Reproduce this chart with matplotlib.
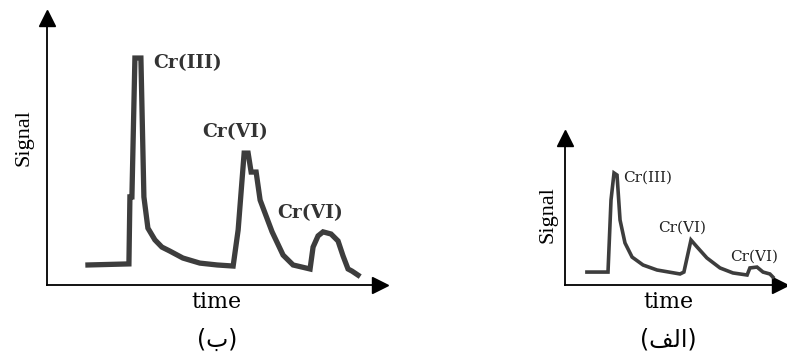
import matplotlib
matplotlib.use("Agg")
import matplotlib.pyplot as plt

# chromatograms, arbitrary units (time and signal both on a 0-100 scale)
time_b = [12.3, 24.6, 24.9, 25.5, 26.4, 28.2, 29.1, 30.3, 32.4, 34.5, 36.9, 40.8,
          45.9, 51.1, 55.9, 57.4, 59.2, 60.4, 61.3, 62.8, 64.0, 67.6, 70.9, 73.9,
          79.0, 79.9, 81.4, 82.9, 85.3, 87.4, 88.9, 90.4, 91.6, 93.4]
signal_b = [7.5, 7.9, 33.0, 33.0, 85.0, 85.0, 33.0, 21.3, 16.9, 14.2, 12.7, 10.1,
            8.2, 7.5, 7.1, 20.6, 49.4, 49.4, 42.3, 42.3, 31.8, 19.9, 11.2, 7.5,
            6.0, 14.2, 18.4, 19.9, 19.1, 16.5, 10.9, 6.0, 5.2, 3.7]

time_a = [10.2, 20.0, 21.4, 22.8, 24.2, 25.6, 27.9, 31.2, 36.3, 42.8, 53.5, 55.3,
          58.6, 61.4, 66.0, 72.1, 78.1, 84.7, 86.0, 89.3, 92.1, 95.3, 96.7]
signal_a = [8.8, 8.8, 57.8, 76.2, 74.8, 44.2, 28.6, 19.0, 13.6, 10.2, 7.5, 8.8,
            30.6, 25.9, 18.4, 11.6, 8.2, 6.8, 11.6, 12.2, 8.8, 7.5, 5.4]

peak_names = ["Cr(III)", "Cr(VI)", "Cr(VI)"]
label_pos_b = [(31.8, 83.1), (46.5, 57.3), (69.1, 27.0)]
label_pos_a = [(27.0, 72.8), (43.3, 38.8), (76.7, 19.0)]

TRACE = "#3d3d3d"
SERIF = "DejaVu Serif"

fig = plt.figure(figsize=(7.87, 3.53), dpi=100)
W, H = 787, 353


def add_panel(left, right, bottom, top):
    ax = fig.add_axes([left / W, 1 - bottom / H, (right - left) / W, (bottom - top) / H])
    ax.set_xlim(0, 100)
    ax.set_ylim(0, 100)
    ax.set_xticks([])
    ax.set_yticks([])
    for side in ("top", "right"):
        ax.spines[side].set_visible(False)
    for side in ("left", "bottom"):
        ax.spines[side].set_linewidth(1.3)
    ax.plot(1, 0, ">k", ms=11, transform=ax.get_yaxis_transform(), clip_on=False)
    ax.plot(0, 1, "^k", ms=11, transform=ax.get_xaxis_transform(), clip_on=False)
    return ax


def decorate(ax, sig_xy, time_xy, caption, cap_xy):
    ax.text(*sig_xy, "Signal", rotation=90, ha="center", va="center",
            family="Liberation Serif", fontsize=16, transform=ax.transAxes)
    ax.text(*time_xy, "time", ha="center", va="center",
            family=SERIF, fontsize=16, transform=ax.transAxes)
    fig.text(*cap_xy, caption, ha="center", va="center", family="DejaVu Sans",
             fontsize=17)


# (b) larger chromatogram
ax_b = add_panel(47, 380, 285, 18)
ax_b.plot(time_b, signal_b, color=TRACE, lw=3.8, solid_joinstyle="miter")
for name, (x, y) in zip(peak_names, label_pos_b):
    ax_b.text(x, y, name, ha="left", va="center", family=SERIF, fontsize=13.5,
              fontweight="bold", color="#333333")
decorate(ax_b, (-0.069, 0.554), (0.51, -0.064), "(ب)", (217 / W, 1 - 340 / H))

# (a) smaller chromatogram
ax_a = add_panel(565, 780, 285, 138)
ax_a.plot(time_a, signal_a, color=TRACE, lw=2.6, solid_joinstyle="miter")
for name, (x, y) in zip(peak_names, label_pos_a):
    ax_a.text(x, y, name, ha="left", va="center", family=SERIF, fontsize=11,
              color="#222222")
decorate(ax_a, (-0.079, 0.476), (0.479, -0.116),
         "(\ufed2\ufedf\u0627)", (668 / W, 1 - 340 / H))

fig.savefig("out.png", dpi=100)
